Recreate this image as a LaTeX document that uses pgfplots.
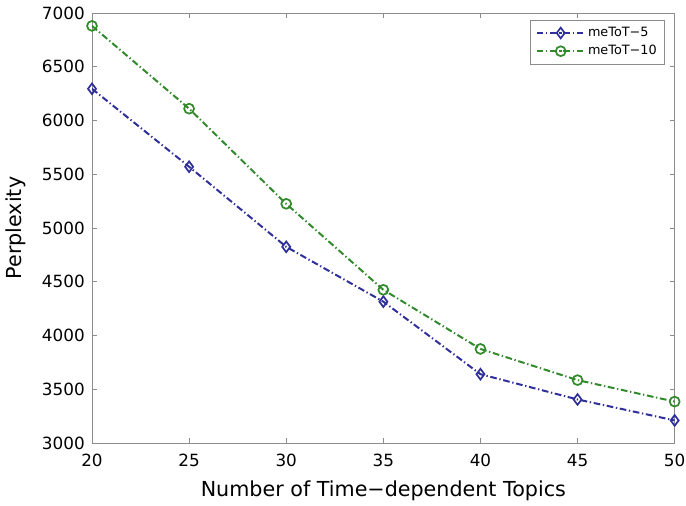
\documentclass[border=0pt]{standalone}
\usepackage{pgfplots}
\pgfplotsset{compat=1.18}
\usepackage{fontspec}
\setmainfont{DejaVu Sans}
\definecolor{mblue}{RGB}{48,48,155}
\definecolor{mgreen}{RGB}{50,138,45}
\begin{document}
\begin{tikzpicture}
\begin{axis}[
  scale only axis,
  width=437pt, height=322.5pt,
  xmin=20, xmax=50, ymin=3000, ymax=7000,
  xtick={20,25,...,50},
  ytick={3000,3500,...,7000},
  tick align=inside,
  major tick length=3.75pt,
  axis line style={draw=black!45},
  every tick/.style={black!45},
  scaled ticks=false,
  /pgf/number format/assume math mode=true,
  /pgf/number format/1000 sep={},
  tick label style={font=\fontsize{12.6}{15}\selectfont, inner sep=0pt},
  xticklabel style={anchor=base, yshift=-18pt},
  yticklabel style={anchor=east, xshift=-5.25pt},
  xlabel={Number of Time−dependent Topics},
  ylabel={Perplexity},
  xlabel style={font=\fontsize{15.5}{18}\selectfont, inner sep=0pt,
    at={([yshift=-40.5pt]axis description cs:0.5,0)}, anchor=base},
  ylabel style={font=\fontsize{15.5}{18}\selectfont, inner sep=0pt,
    at={([xshift=-52.5pt]axis description cs:0,0.5)}, anchor=base, rotate=0},
  legend style={at={([xshift=-7.5pt,yshift=-5.25pt]axis description cs:1,1)},
    anchor=north east, draw=black!45,
    font=\fontsize{9.6}{11}\selectfont, row sep=1.5pt,
    inner xsep=4pt, inner ysep=3.5pt, nodes={inner sep=1.8pt}},
  legend cell align=left,
  legend image code/.code={%
    \draw[mark repeat=2,mark phase=2,#1]
      plot coordinates {(0cm,0cm) (0.63cm,0cm) (1.26cm,0cm)};},
]
\addplot[mblue, line width=1.5pt, dash pattern=on 5pt off 2pt on 1pt off 2pt,
  mark=diamond, mark size=4pt, mark options={solid, line width=1.3pt}]
  coordinates {(20,6295) (25,5570) (30,4825) (35,4315) (40,3640) (45,3405) (50,3210)};
\addlegendentry{meToT−5}
\addplot[mgreen, line width=1.5pt, dash pattern=on 5pt off 2pt on 1pt off 2pt,
  mark=o, mark size=3.7pt, mark options={solid, line width=1.3pt}]
  coordinates {(20,6880) (25,6110) (30,5225) (35,4425) (40,3875) (45,3585) (50,3385)};
\addlegendentry{meToT−10}
\coordinate (sw) at (rel axis cs:0,0);
\coordinate (ne) at (rel axis cs:1,1);
\end{axis}
\pgfresetboundingbox
\path ([shift={(-69pt,-47.25pt)}]sw) rectangle ([shift={(8.5pt,9.75pt)}]ne);
\end{tikzpicture}
\end{document}
